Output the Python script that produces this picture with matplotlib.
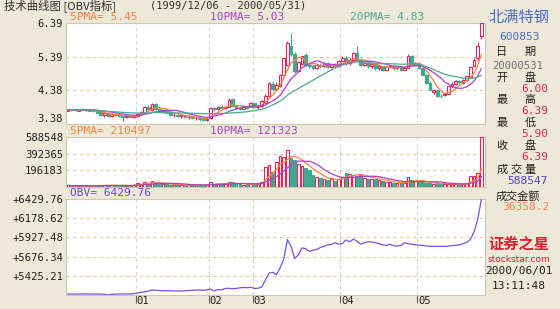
import numpy as np
import pandas as pd
import matplotlib
matplotlib.use('Agg')
import matplotlib.pyplot as plt

# daily bars 1999/12/06 - 2000/05/31 (trading-day index)
opens = [3.78, 3.81, 3.80, 3.78, 3.82, 3.80, 3.81, 3.78, 3.76, 3.74, 3.66, 3.70, 3.62, 3.68, 3.66, 3.62, 3.60, 3.62, 3.58,
         3.62, 3.68, 3.72, 3.90, 3.80, 3.98, 3.82, 3.78, 3.80, 3.72, 3.64, 3.66, 3.62, 3.64, 3.58, 3.60, 3.55, 3.57, 3.52, 3.50,
         3.55, 3.86, 3.82, 3.90, 3.86, 3.90, 4.12, 3.92, 3.86, 3.84, 3.88, 3.90, 4.00,
         3.88, 3.92, 4.02, 4.20, 4.58, 4.42, 4.50, 4.83, 5.15, 5.70, 5.48, 4.95, 5.18, 5.45, 5.15, 5.10, 5.05, 5.15, 5.10, 5.20, 5.08, 5.15, 5.10, 5.25,
         5.35, 5.20, 5.28, 5.50, 5.30, 5.15, 5.20, 5.10, 5.18, 5.05, 5.10, 5.00, 5.08, 5.12, 5.05, 5.10, 5.00, 5.05, 5.40, 5.15,
         5.20, 5.05, 4.85, 4.60, 4.32, 4.38, 4.22, 4.24, 4.28, 4.50, 4.56, 4.65, 4.60, 4.70, 4.78, 5.12, 5.35, 6.00]
highs = [3.83, 3.84, 3.82, 3.83, 3.85, 3.83, 3.84, 3.80, 3.78, 3.76, 3.72, 3.72, 3.70, 3.71, 3.68, 3.65, 3.64, 3.66, 3.66,
         3.70, 3.76, 3.92, 3.94, 4.02, 4.02, 3.86, 3.82, 3.82, 3.76, 3.70, 3.70, 3.66, 3.66, 3.64, 3.62, 3.60, 3.60, 3.56, 3.55,
         3.90, 3.90, 3.92, 3.96, 3.92, 4.14, 4.16, 3.96, 3.90, 3.92, 3.92, 4.04, 4.02,
         3.96, 4.10, 4.26, 4.64, 4.62, 4.62, 4.86, 5.36, 5.84, 6.09, 5.52, 5.26, 5.42, 5.50, 5.20, 5.16, 5.18, 5.20, 5.24, 5.22, 5.18, 5.20, 5.28, 5.40,
         5.40, 5.34, 5.52, 5.70, 5.36, 5.24, 5.22, 5.20, 5.20, 5.14, 5.12, 5.10, 5.15, 5.14, 5.12, 5.12, 5.08, 5.46, 5.44, 5.24,
         5.22, 5.08, 4.88, 4.66, 4.40, 4.40, 4.28, 4.30, 4.52, 4.62, 4.70, 4.68, 4.72, 4.82, 5.10, 5.35, 5.82, 6.39]
lows = [3.76, 3.78, 3.77, 3.76, 3.79, 3.77, 3.78, 3.74, 3.70, 3.62, 3.60, 3.58, 3.60, 3.63, 3.60, 3.48, 3.56, 3.58, 3.56,
        3.58, 3.66, 3.70, 3.80, 3.78, 3.80, 3.74, 3.72, 3.70, 3.62, 3.60, 3.60, 3.56, 3.56, 3.54, 3.52, 3.50, 3.48, 3.46, 3.46,
        3.54, 3.78, 3.80, 3.84, 3.82, 3.88, 3.88, 3.84, 3.80, 3.82, 3.82, 3.88, 3.86,
        3.84, 3.90, 4.00, 4.18, 4.36, 4.40, 4.48, 4.80, 5.10, 5.40, 4.90, 4.92, 5.15, 5.12, 5.05, 5.00, 5.02, 5.05, 5.08, 5.04, 5.05, 5.06, 5.08, 5.22,
        5.15, 5.15, 5.25, 5.26, 5.10, 5.10, 5.05, 5.06, 5.00, 5.00, 4.96, 4.98, 5.04, 5.00, 5.02, 4.96, 4.98, 5.04, 5.10, 5.12,
        5.02, 4.84, 4.58, 4.38, 4.28, 4.18, 4.16, 4.20, 4.26, 4.46, 4.54, 4.56, 4.58, 4.66, 4.76, 5.08, 5.30, 5.90]
closes = [3.81, 3.80, 3.79, 3.82, 3.80, 3.81, 3.78, 3.76, 3.72, 3.65, 3.70, 3.62, 3.68, 3.66, 3.62, 3.60, 3.62, 3.58, 3.64,
          3.68, 3.74, 3.90, 3.84, 3.98, 3.82, 3.78, 3.80, 3.72, 3.64, 3.66, 3.62, 3.64, 3.58, 3.60, 3.55, 3.57, 3.52, 3.50, 3.53,
          3.86, 3.82, 3.90, 3.86, 3.90, 4.10, 3.92, 3.86, 3.84, 3.88, 3.85, 4.02, 3.88,
          3.92, 4.06, 4.22, 4.60, 4.42, 4.55, 4.83, 5.34, 5.80, 5.48, 4.95, 5.22, 5.40, 5.15, 5.10, 5.05, 5.15, 5.10, 5.20, 5.08, 5.15, 5.10, 5.25, 5.35,
          5.20, 5.30, 5.50, 5.30, 5.15, 5.20, 5.10, 5.18, 5.05, 5.10, 5.00, 5.08, 5.12, 5.05, 5.10, 5.00, 5.05, 5.40, 5.15, 5.20,
          5.05, 4.85, 4.60, 4.40, 4.38, 4.22, 4.20, 4.26, 4.50, 4.58, 4.65, 4.62, 4.69, 4.80, 5.07, 5.30, 5.70, 6.39]
volumes = [18000, 15000, 12000, 16000, 14000, 12000, 15000, 13000, 18000, 22000, 20000, 25000, 18000, 16000, 15000, 20000, 14000, 16000, 28000,
           45000, 38000, 62000, 40000, 70000, 55000, 35000, 30000, 32000, 28000, 25000, 30000, 24000, 26000, 22000, 25000, 20000, 24000, 22000, 26000,
           55000, 40000, 38000, 35000, 30000, 60000, 55000, 35000, 30000, 28000, 32000, 45000, 30000,
           40000, 60000, 240000, 260000, 180000, 300000, 360000, 350000, 430000, 340000, 320000, 270000, 250000, 220000, 200000,
           140000, 120000, 110000, 95000, 85000, 90000, 75000, 100000, 120000,
           170000, 150000, 140000, 130000, 150000, 110000, 100000, 95000, 90000, 85000, 70000, 60000, 55000, 50000, 45000, 50000, 45000, 115000, 80000, 70000,
           60000, 55000, 50000, 45000, 40000, 45000, 40000, 35000, 30000, 32000, 30000, 34000, 34000, 45000, 125000, 135000, 160000, 588547]
obv = [5187, 5187, 5186, 5187, 5188, 5187, 5186, 5187, 5187, 5186,
       5184, 5175, 5183, 5186, 5187, 5188, 5187, 5189, 5191,
       5200, 5210, 5215, 5225, 5240, 5235, 5232, 5230, 5228, 5230, 5226, 5228, 5225, 5230, 5232, 5235, 5238, 5240, 5236, 5242,
       5250, 5228, 5245, 5240, 5258, 5262, 5255, 5260, 5268, 5272, 5270, 5275,
       5260, 5262, 5280, 5370, 5460, 5470, 5440, 5530, 5640, 5900, 5810, 5650, 5700, 5790, 5780, 5745, 5760, 5770, 5795, 5810, 5828, 5835, 5858, 5840, 5845,
       5895, 5868, 5905, 5878, 5840, 5855, 5872, 5868, 5860, 5845, 5830, 5822, 5838, 5820, 5815, 5822, 5858, 5845, 5838, 5830,
       5825, 5822, 5815, 5812, 5810, 5810, 5812, 5810, 5815, 5820, 5825, 5830, 5845, 5862, 5901, 6000, 6160, 6429.76]

month_start = [19, 39, 51, 75, 96]
month_label = ['01', '02', '03', '04', '05']

price_ticks = [3.38, 4.38, 5.39, 6.39]
vol_ticks = [196183, 392365, 588548]
obv_ticks = [5425.21, 5676.34, 5927.48, 6178.62, 6429.76]

RED = '#E8245A'
GREEN = '#3FA890'
C5 = '#FF8040'
C10 = '#B040C8'
C20 = '#50A890'
GRID = '#E2CFA8'
BG = '#ECE9D8'
CJK = ['Noto Sans CJK SC', 'DejaVu Sans']
MONO = 'DejaVu Sans Mono'

W, H = 560, 309
fig = plt.figure(figsize=(W / 100, H / 100), dpi=100, facecolor=BG)


def rect(x0, y0, x1, y1):
    return [x0 / W, 1 - y1 / H, (x1 - x0) / W, (y1 - y0) / H]


def ftext(x, y, s, **kw):
    kw.setdefault('va', 'center')
    fig.text(x / W, 1 - y / H, s, **kw)


o = np.array(opens); h = np.array(highs); l = np.array(lows); c = np.array(closes)
v = np.array(volumes)
x = np.arange(len(c))
up = c >= o
col = np.where(up, RED, GREEN)
cs = pd.Series(c)
vs = pd.Series(v)


def setup(ax, ylim, ticks, labels):
    ax.set_facecolor('white')
    ax.set_xlim(-0.5, len(c))
    ax.set_ylim(*ylim)
    for s in ax.spines.values():
        s.set_color('#CFC8B0')
        s.set_linewidth(0.8)
    ax.set_yticks(ticks)
    ax.set_yticklabels(labels, fontfamily=MONO, fontsize=7.6, color='#202020')
    ax.tick_params(axis='y', length=0, pad=2)
    for t in ticks:
        ax.axhline(t, color=GRID, lw=0.8, ls=(0, (3, 3)), zorder=0)
    for m in month_start:
        ax.axvline(m - 0.5, color=GRID, lw=0.8, ls=(0, (3, 3)), zorder=0)


# price panel
ax1 = fig.add_axes(rect(66, 23, 485, 124))
setup(ax1, (3.38, 6.39), price_ticks, ['%.2f' % t for t in price_ticks])
ax1.get_yticklabels()[0].set_verticalalignment('bottom')
ax1.set_xticks([])
ax1.vlines(x, l, h, colors=col, lw=0.8, zorder=2)
ax1.bar(x[up], (c - o)[up], bottom=o[up], width=0.72, facecolor='white', edgecolor=RED, lw=0.8, zorder=3)
ax1.bar(x[~up], (o - c)[~up], bottom=c[~up], width=0.72, facecolor=GREEN, edgecolor=GREEN, lw=0.8, zorder=3)
ax1.plot(x, cs.rolling(5, min_periods=1).mean(), color=C5, lw=0.9, zorder=4)
ax1.plot(x, cs.rolling(10, min_periods=1).mean(), color=C10, lw=0.9, zorder=4)
ax1.plot(x, cs.rolling(20, min_periods=1).mean(), color=C20, lw=0.9, zorder=4)

# volume panel
ax2 = fig.add_axes(rect(66, 137, 485, 187))
setup(ax2, (0, 588548), vol_ticks, [str(t) for t in vol_ticks])
ax2.set_xticks([])
ax2.bar(x[up], v[up], width=0.72, facecolor='white', edgecolor=RED, lw=0.8, zorder=3)
ax2.bar(x[~up], v[~up], width=0.72, facecolor=GREEN, edgecolor=GREEN, lw=0.8, zorder=3)
ax2.plot(x, vs.rolling(5, min_periods=1).mean(), color=C5, lw=0.9, zorder=4)
ax2.plot(x, vs.rolling(10, min_periods=1).mean(), color=C10, lw=0.9, zorder=4)

# OBV panel
ax3 = fig.add_axes(rect(66, 199, 485, 295))
setup(ax3, (5174.07, 6429.76), obv_ticks, ['+%.2f' % t for t in obv_ticks])
ax3.plot(x, obv, color='#7850E0', lw=0.9, zorder=4)
ax3.set_xticks([m - 0.5 for m in month_start])
ax3.set_xticklabels([])
ax3.tick_params(axis='x', length=6, width=0.8, color='#606060')
tr = ax3.get_xaxis_transform()
for m, lab in zip(month_start, month_label):
    ax3.text(m - 0.2, -0.015, lab, transform=tr, fontfamily=MONO, fontsize=7.6,
             ha='left', va='top', color='#202020')

# headers
ftext(4, 6, '技术曲线图 [OBV指标]', family=CJK, fontsize=8.2, color='#303030')
ftext(150, 6, '(1999/12/06 - 2000/05/31)', family=MONO, fontsize=7.5, color='#303030')
ftext(70, 17, '5PMA= 5.45', family=MONO, fontsize=8, color=C5)
ftext(210, 17, '10PMA= 5.03', family=MONO, fontsize=8, color=C10)
ftext(350, 17, '20PMA= 4.83', family=MONO, fontsize=8, color=C20)
ftext(70, 131, '5PMA= 210497', family=MONO, fontsize=8, color=C5)
ftext(210, 131, '10PMA= 121323', family=MONO, fontsize=8, color=C10)
ftext(70, 193, 'OBV= 6429.76', family=MONO, fontsize=8, color='#6A48D8')

# right side info
ftext(519, 17, '北满特钢', family=CJK, fontsize=11, color='#4A6CC8', ha='center')
ftext(519, 37, '600853', family=MONO, fontsize=8, color='#4A6CC8', ha='center')
side_labels = ['日期', '开盘', '最高', '最低', '收盘', '成交量']
side_values = ['20000531', '6.00', '6.39', '5.90', '6.39', '588547']
side_colors = ['#707070', RED, RED, RED, RED, '#5040D8']
label_y = [52, 78, 100, 123, 146, 170]
value_y = [66, 89, 111, 134, 157, 181]
for lab, val, vc, ly, vy in zip(side_labels, side_values, side_colors, label_y, value_y):
    xs = np.linspace(502, 530, len(lab))
    for ch, cx in zip(lab, xs):
        ftext(cx, ly, ch, family=CJK, fontsize=8, color='#202020', ha='center')
    if lab == '日期':
        ftext(518, vy, val, family=MONO, fontsize=7.6, color=vc, ha='center')
    else:
        ftext(548, vy, val, family=MONO, fontsize=8, color=vc, ha='right')
ftext(496, 196, '成交金额', family=CJK, fontsize=8, color='#202020')
ftext(549, 207, '36358.2', family=MONO, fontsize=8, color='#FF8050', ha='right')
ftext(519, 244, '证券之星', family=CJK, fontsize=11, color='#E02030', ha='center', fontweight='bold', style='italic')
ftext(519, 259, 'stockstar.com', family='DejaVu Sans', fontsize=6.5, color='#E02030', ha='center')
ftext(519, 271, '2000/06/01', family=MONO, fontsize=8, color='#202020', ha='center')
ftext(519, 286, '13:11:48', family=MONO, fontsize=8, color='#202020', ha='center')

fig.savefig('out.png', dpi=100, facecolor=BG)
